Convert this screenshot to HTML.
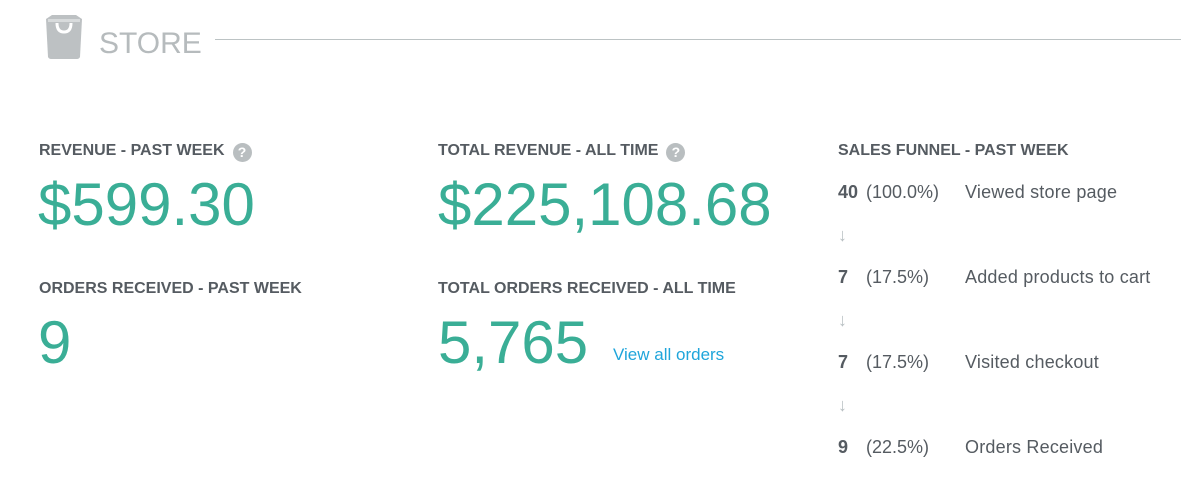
<!DOCTYPE html>
<html><head><meta charset="utf-8"><style>
body{margin:0;width:1181px;height:494px;background:#fff;position:relative;overflow:hidden;font-family:"Liberation Sans",sans-serif;color:#555b61}
.a{position:absolute;white-space:nowrap}
.h{font-weight:bold;font-size:16px;line-height:16px}
.big{color:#3aae96;font-size:60px;line-height:60px}
.q{display:inline-block;width:19px;height:19px;border-radius:50%;background:#b9bec0;color:#fff;font-size:14px;line-height:19px;text-align:center;font-weight:bold;vertical-align:-2px;margin-left:8px}
.f{font-size:18px;line-height:18px}
.ar{color:#b8bfc2;font-size:18px}
</style></head><body>
<svg class="a" style="left:44px;top:15px" width="40" height="44" viewBox="0 0 40 44">
<path d="M2 4 L8 0 L32 0 L38 4 L36 42 Q35 44 33 44 L7 44 Q5 44 4 42 Z" fill="#bdc1c3"/>
<rect x="4" y="4" width="32" height="3" fill="#d8dbdc"/>
<path d="M13 8 Q13 17 20 17 Q27 17 27 8" stroke="#fff" stroke-width="3" fill="none"/>
</svg>
<div class="a" style="left:99px;top:27px;font-size:30px;line-height:34px;color:#b6bbbd">STORE</div>
<div class="a" style="left:215px;top:39px;width:966px;height:1px;background:#bcc3c4"></div>

<div class="a h" style="left:39px;top:143px">REVENUE - PAST WEEK<span class="q">?</span></div>
<div class="a big" style="left:38px;top:175px">$599.30</div>
<div class="a h" style="left:39px;top:281px">ORDERS RECEIVED - PAST WEEK</div>
<div class="a big" style="left:38px;top:313px">9</div>

<div class="a h" style="left:438px;top:143px">TOTAL REVENUE - ALL TIME<span class="q">?</span></div>
<div class="a big" style="left:438px;top:175px">$225,108.68</div>
<div class="a h" style="left:438px;top:281px">TOTAL ORDERS RECEIVED - ALL TIME</div>
<div class="a big" style="left:438px;top:313px">5,765</div>
<div class="a" style="left:613px;top:345px;font-size:17px;color:#1fa5db">View all orders</div>

<div class="a h" style="left:838px;top:143px">SALES FUNNEL - PAST WEEK</div>
<div class="a f" style="left:838px;top:183px"><b>40</b></div><div class="a f" style="left:866px;top:183px">(100.0%)</div><div class="a f" style="left:965px;top:183px;letter-spacing:0.2px">Viewed store page</div>
<div class="a ar" style="left:838px;top:225px">↓</div>
<div class="a f" style="left:838px;top:268px"><b>7</b></div><div class="a f" style="left:866px;top:268px">(17.5%)</div><div class="a f" style="left:965px;top:268px;letter-spacing:0.2px">Added products to cart</div>
<div class="a ar" style="left:838px;top:310px">↓</div>
<div class="a f" style="left:838px;top:353px"><b>7</b></div><div class="a f" style="left:866px;top:353px">(17.5%)</div><div class="a f" style="left:965px;top:353px;letter-spacing:0.2px">Visited checkout</div>
<div class="a ar" style="left:838px;top:395px">↓</div>
<div class="a f" style="left:838px;top:438px"><b>9</b></div><div class="a f" style="left:866px;top:438px">(22.5%)</div><div class="a f" style="left:965px;top:438px;letter-spacing:0.2px">Orders Received</div>
</body></html>
